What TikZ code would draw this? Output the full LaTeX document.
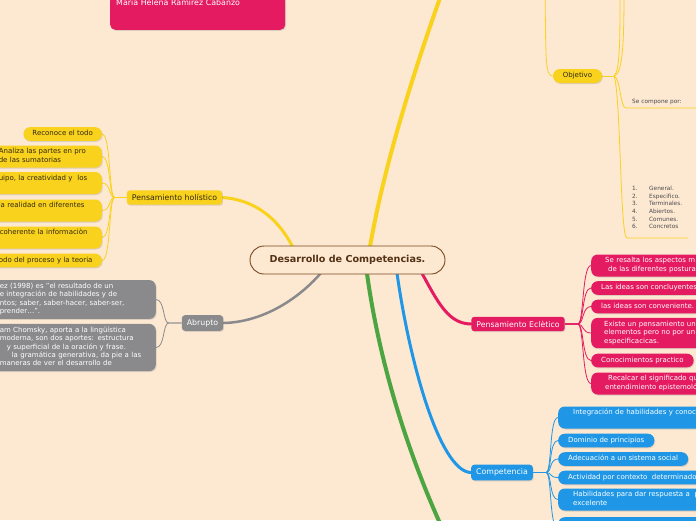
\documentclass[tikz,border=0pt]{standalone}
\usepackage{fontspec}
\setmainfont{DejaVu Sans}
\usepackage{tikz}
\usetikzlibrary{
  positioning,
  calc,
  backgrounds,
  shadows
}
\definecolor{paper}{RGB}{253,232,210}
\definecolor{mapyellow}{RGB}{249,210,29}
\definecolor{mappink}{RGB}{228,27,96}
\definecolor{mapblue}{RGB}{31,151,230}
\definecolor{mapgray}{RGB}{138,138,140}
\definecolor{mapgreen}{RGB}{77,165,66}
\definecolor{rootbrown}{RGB}{120,72,30}
\definecolor{inkdark}{RGB}{50,40,20}

\newcommand{\leaffont}{\fontsize{7}{8.4}\selectfont}
\newcommand{\topicfont}{\fontsize{7.8}{9}\selectfont}
\newcommand{\notefont}{\fontsize{5.8}{7.6}\selectfont}

\begin{document}
\begin{tikzpicture}[
  x=1pt, y=-1pt,
  root/.style={draw=rootbrown, line width=0.9pt, fill=paper, rounded corners=14pt,
               minimum width=195pt, minimum height=28pt,
               font=\fontsize{9.6}{11}\selectfont\bfseries, text=rootbrown!70!black},
  shade/.style={drop shadow={opacity=0.25, shadow xshift=0.8pt, shadow yshift=-1pt}},
  topic/.style={shade, rounded corners=3pt, inner xsep=5pt, inner ysep=4pt, font=\topicfont},
  leaf/.style={shade, rounded corners=6.5pt, inner xsep=9pt, inner ysep=2.6pt, font=\leaffont,
               execute at begin node=\strut, execute at end node=\strut},
  hleaf/.style={leaf, fill=mapyellow, text=inkdark, anchor=east},
  aleaf/.style={leaf, fill=mapgray, text=white, anchor=east, text width=147pt, align=left},
  eleaf/.style={leaf, fill=mappink, text=white, anchor=west, inner xsep=10pt},
  cleaf/.style={leaf, fill=mapblue, text=white, anchor=west, inner xsep=10pt},
  note/.style={font=\notefont, text=black!70, align=left},
  trunk/.style={line width=3pt, line cap=round},
  twig/.style={line width=0.8pt},
]
\useasboundingbox (0,0) rectangle (696,520);

% centre and author
\node[root] (root) at (347.5,260) {Desarrollo de Competencias.};
\node[shade, fill=mappink, text=white, rounded corners=5pt, anchor=south west,
      text width=163pt, align=left, inner xsep=6pt, inner ysep=4pt, text depth=20pt,
      font=\fontsize{7.9}{9}\selectfont] (autor) at (110,30) {Maria Helena Ramírez Cabanzo};

% holistico
\node[topic, fill=mapyellow, text=inkdark] (hol) at (174.5,197.5) {Pensamiento holístico};
\node[hleaf] (h1) at (102,134) {Reconoce el todo};
\node[hleaf, text width=96pt, align=left, inner xsep=7pt] (h2) at (102,156.5) {Analiza las partes en pro\\de las sumatorias};
\node[hleaf, text width=96pt, align=left, inner xsep=7pt] (h3) at (102,183) {uipo, la creatividad y\ \ los\\};
\node[hleaf, text width=96pt, align=left, inner xsep=7pt] (h4) at (102,210.5) {la realidad en diferentes\\};
\node[hleaf, text width=96pt, align=left, inner xsep=7pt] (h5) at (102,237.5) {\hspace*{1pt}coherente la informaciòn\\};
\node[hleaf, text width=96pt, align=left, inner xsep=7pt] (h6) at (102,260.5) {odo del proceso y la teoria};

% abrupto
\node[topic, fill=mapgray, text=white] (abr) at (202.5,323) {Abrupto};
\node[aleaf] (a1) at (156,299.5) {ez (1998) es "el resultado de un\\e integración de habilidades y de\\ntos; saber, saber-hacer, saber-ser,\\prender…".};
\node[aleaf] (a2) at (156,347.5) {am Chomsky, aporta a la lingüística\\moderna, son dos aportes: estructura\\\hspace*{7pt}y superficial de la oración y frase.\\\hspace*{12pt}la gramática generativa, da pie a las\\maneras de ver el desarrollo de};

% eclectico
\node[topic, fill=mappink, text=white] (ecl) at (518,324) {Pensamiento Eclètico};
\node[eleaf, text width=110pt, align=left, inner xsep=14pt] (e1) at (591,265.5) {Se resalta los aspectos m\\\hspace*{3pt}de las diferentes posturas};
\node[eleaf] (e2) at (591,288) {Las ideas son concluyentes};
\node[eleaf] (e3) at (591,306.5) {las ideas son conveniente.};
\node[eleaf, text width=110pt, align=left, inner xsep=13pt] (e4) at (591,333) {Existe un pensamiento un\\elementos pero no por un\\especificacicas.};
\node[eleaf] (e5) at (591,360.5) {Conocimientos practico};
\node[eleaf, text width=110pt, align=left, inner xsep=14pt] (e6) at (591,383.5) {\hspace*{3pt}Recalcar el significado qu\\entendimiento epistemoló};

% competencia
\node[topic, fill=mapblue, text=white] (comp) at (502,472.5) {Competencia};
\node[cleaf, text width=130pt, align=left, inner xsep=15pt] (c1) at (558,417.5) {Integración de habilidades y conoc\\};
\node[cleaf] (c2) at (558,440.5) {Dominio de principios};
\node[cleaf] (c3) at (558,459) {Adecuación a un sistema social};
\node[cleaf] (c4) at (558,477.5) {Actividad por contexto\ \ determinado};
\node[cleaf, text width=130pt, align=left, inner xsep=15pt] (c5) at (558,499.5) {Habilidades para dar respuesta a\ \ p\\excelente};
\node[cleaf, text width=130pt, align=left, anchor=north west] (c6) at (558,517) {\\};

% objetivo
\node[leaf, fill=mapyellow, text=inkdark, rounded corners=7pt, minimum width=49pt,
      minimum height=14pt, inner xsep=4pt] (obj) at (577.5,76) {Objetivo};
\node[note, anchor=south west, text width=70pt, inner xsep=6pt, inner ysep=3pt] (compone) at (626,108) {Se compone por:};
\node[note, anchor=south west, text width=51pt, inner xsep=5pt, inner ysep=9pt] (lista) at (627,238)
  {\makebox[17pt][l]{1.}General.\\\makebox[17pt][l]{2.}Especifico.\\\makebox[17pt][l]{3.}Terminales.\\
   \makebox[17pt][l]{4.}Abiertos.\\\makebox[17pt][l]{5.}Comunes.\\\makebox[17pt][l]{6.}Concretos};

\coordinate (ytop) at (450,-30);
\coordinate (gbot) at (450,545);
\coordinate (objtop) at (545,-10);
\coordinate (up1) at (620,-10);
\coordinate (up2) at (624,-10);
\coordinate (objfork) at ($(obj.east)+(12,0)$);

\begin{scope}[on background layer]
  \fill[paper] (0,0) rectangle (696,520);
  % main branches
  \draw[trunk, mapyellow, line width=4pt] ($(root.center)+(20,2)$) .. controls (380,180) and (410,80) .. (ytop);
  \draw[trunk, mapyellow] ($(root.west)!.25!(root.east)$) .. controls (285,225) and (260,200) .. (hol.east);
  \draw[trunk, mapgray, line width=2.5pt] ($(root.center)+(-18,2)$) .. controls (310,290) and (270,322) .. (abr.east);
  \draw[trunk, mapgreen, line width=4pt] ($(root.center)+(18,2)$) .. controls (375,340) and (400,440) .. (gbot);
  \draw[trunk, mapblue] ($(root.center)+(48,2)$) .. controls (408,360) and (440,472) .. (comp.west);
  \draw[trunk, mappink] ($(root.center)+(68,2)$) .. controls (435,295) and (445,324) .. (ecl.west);
  % leaves
  \foreach \c in {h1,h2,h3,h4,h5,h6}
    \draw[twig, mapyellow] (hol.west) -- ++(-12,0) .. controls +(-6,0) and +(9,0) .. (\c.east);
  \foreach \c in {a1,a2}
    \draw[twig, mapgray] (abr.west) -- ++(-13,0) .. controls +(-6,0) and +(9,0) .. (\c.east);
  \foreach \c in {e1,e2,e3,e4,e5,e6}
    \draw[twig, mappink] (ecl.east) -- ++(13,0) .. controls +(6,0) and +(-9,0) .. (\c.west);
  \foreach \c in {c1,c2,c3,c4,c5,c6}
    \draw[twig, mapblue] (comp.east) -- ++(13,0) .. controls +(6,0) and +(-9,0) .. (\c.west);
  % objetivo
  \draw[twig, mapyellow] (objtop) .. controls (546,60) and (545,76) .. (obj.west);
  \draw[twig, mapyellow] (obj.east) -- (objfork);
  \draw[twig, mapyellow] (objfork) .. controls (620,70) and (620,40) .. (up1);
  \draw[twig, mapyellow] (objfork) .. controls (623,74) and (624,40) .. (up2);
  \draw[twig, mapyellow] (objfork) .. controls (621,80) and (620,108) .. (compone.south west) -- (compone.south east);
  \draw[twig, mapyellow] (objfork) .. controls (621,100) and (620,238) .. (lista.south west) -- (lista.south east);
\end{scope}
\end{tikzpicture}
\end{document}
